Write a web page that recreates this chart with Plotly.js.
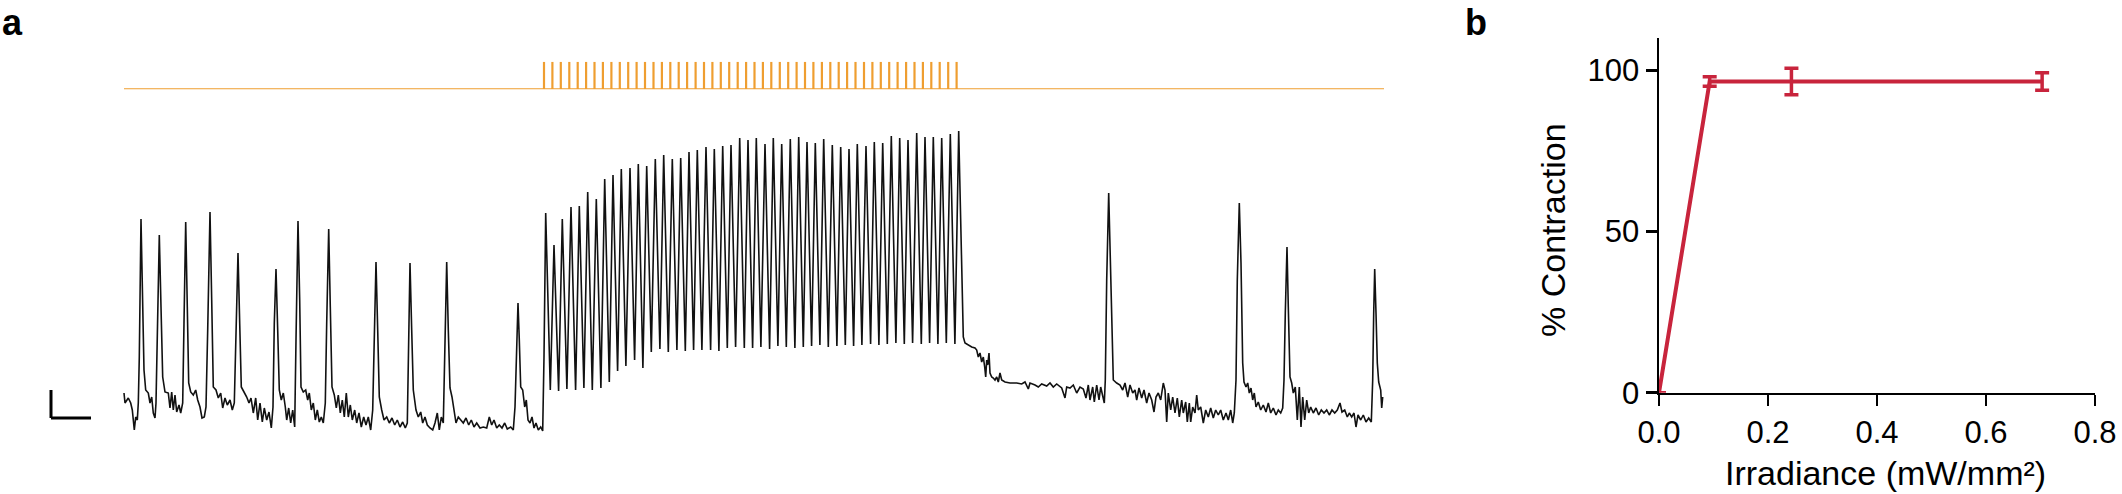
<!DOCTYPE html>
<html>
<head>
<meta charset="utf-8">
<script src="https://cdn.plot.ly/plotly-3.0.1.min.js"></script>
<style>html,body{margin:0;padding:0;background:#fff;}#chart{width:2122px;height:494px;}</style>
</head>
<body>
<div id="chart"></div>
<script>
// ---------- Panel a: recorded trace (time in frames, signal in a.u.) ----------
const preT = [0,1,4.3,6.7,8.3,9.3,10.3,11.7,13.3,14.3,15.3,17,18.7,20,21.7,
  24.3,26,27.7,29.3,31,32,33.3,35.3,37,38.7,41,
  44.3,46,47.7,49.3,51,52.7,55,56.7,58.7,60,61.7,63.3,64.7,66.7,
  69.3,71.7,73.7,76,78,80.3,82,83.7,86,87.7,89.3,
  92,94.3,96.7,98.7,101,103.3,106,108.3,110.3,112,114,115.7,117.3,
  120,122.7,125,127,129.3,131.7,133.7,136,138.3,140.3,142.7,145,147.3,149,150.3,152,153.7,155.3,
  157.3,159.3,161.3,162.7,164.7,166.7,168.7,170.7,172,174,175.7,177,
  179.3,181.7,183.7,185.3,187.3,189.3,191.3,193.3,195.3,197.3,199.3,201.3,202.7,204.7,206.3,208,
  210.3,212.3,214.3,216.3,218.3,220.3,222.3,224.3,226.3,228.3,230.7,232.7,235,237.3,239.7,242,244.3,246.7,248.7,250.3,252,253.7,255.3,
  257.7,260,262.7,265.3,268,270.7,273.3,276,278.7,281.3,283.3,284.7,286,287.7,289.3,
  292,294.3,296.7,298.7,301,303.3,306,308.7,311,313.3,315.3,317.3,319.3,321,322.7,324.3,326,
  328,330,332,334.3,336.7,339.3,342,344.7,347.3,350,352.7,356,359.3,362.7,365.3,367.7,370,372.7,375.3,378,380.7,383.3,386.7,389.3,391,392.7,394,395.3,396.7,
  398.7,400.7,402.3,404,406,408,410,412,414.3,416.7,418.7,420];
const preF = [39,29,34,29,22,12,2,15,12,29,75,213,142,62,42,
  39,29,35,19,14,29,92,197,125,55,40,
  39,24,40,22,37,20,27,19,29,109,210,125,49,40,
  37,42,32,25,14,15,25,102,220,132,45,
  42,34,39,24,34,27,32,22,29,92,179,109,45,
  40,35,29,34,19,34,12,29,10,24,12,20,4,25,109,163,102,42,
  32,39,25,12,24,9,22,5,92,211,132,45,
  40,42,32,39,22,29,12,22,10,15,9,29,109,203,125,45,
  37,24,37,19,32,15,39,15,27,12,22,9,19,5,15,7,15,2,22,92,170,102,35,
  22,12,15,9,14,7,12,5,10,4,9,92,169,102,42,
  22,15,20,9,15,7,4,2,9,19,2,15,9,92,170,102,44,
  35,22,9,15,12,9,14,7,12,5,9,4,5,4,15,7,12,4,7,4,9,3,5,2,25,92,129,92,45,
  42,25,32,12,9,15,4,9,2,5,1,75];

const stimPeakT = [421.7,430,438.3,447,455.3,463.7,472.3,480.7,489,497.3,506,514.3,522.7,531.3,539.7,548.3,556.7,565,573.3,582,
  590.3,598.7,607,615.7,624,632.3,641,649.3,657.7,666.3,674.7,683,691.3,699.7,708.3,716.7,725,733.3,742,750.3,
  758.7,767.3,775.7,784,792.7,801,809.3,817.7,826.3,834.7];
const stimPeakF = [219,187,213,225,226,240,233,253,257,263,264,268,266,273,277,273,274,280,282,285,
  283,286,287,294,292,294,288,294,288,293,295,290,289,293,287,285,283,288,286,290,
  289,296,294,292,299,295,295,294,298,301];
const stimTroughT = [426.3,434.6,442.9,451.6,459.9,468.3,476.9,485.3,493.6,501.9,510.6,518.9,527.3,535.9,544.3,552.9,561.3,569.6,577.9,586.6,
  594.9,603.3,611.6,620.3,628.6,636.9,645.6,653.9,662.3,670.9,679.3,687.6,695.9,704.3,712.9,721.3,729.6,737.9,746.6,754.9,
  763.3,771.9,780.3,788.6,797.3,805.6,813.9,822.3,830.9];
const stimTroughF = [42,41,43,42,44,42,44,50,61,66,72,64,80,83,80,82,81,82,82,82,
  81,84,85,84,84,85,83,86,85,84,85,86,87,85,86,87,86,87,88,87,
  88,89,88,89,88,89,88,89,88];

const postT = [837.7,839.3,841,844.3,847.7,851,852.7,854.3,856,857.7,859.3,860.7,861.7,862.7,863.7,865,866,867.7,869.3,871,872.7,874.3,876,877.7,881,886,892.7,897.7,901,904.3,906,911,914.3,917.7,922.7,926,929.3,932.7,937.7,941,942.7,946,949.3,952.7,956,959.3,962,964.3,966,968.7,970.3,972.7,975,976.7,978.7,980.3,
  981.3,982.7,984.7,986.7,988,989.3,992.7,996,998.7,1001,1003.7,1006,1008.7,1011,1012.7,1015,1017.7,1020,1022.7,1025,1027.7,1030,1032,1034.3,1036.7,1039.3,1041,1042.7,1044.3,1046.7,1048.7,1051,1053.3,1055.3,1057.7,1059.3,1061.7,1063.3,1065.3,1066.7,1068.7,1071,1072.7,1074.3,1076.7,1079.3,1081.7,1084.3,1086.7,1089.3,1091.7,1094.3,1096.7,1099.3,1102,1104.3,1106.7,1108.7,1110.3,
  1112,1113.3,1115.3,1117,1118.7,1120,1122,1123.7,1125.3,1127,1128.7,1130.3,1132,1134.3,1136.7,1139.3,1142,1144.3,1146.7,1149.3,1152,1154.3,1156.7,1158.7,
  1160,1161.3,1163,1164.3,1166,1167.7,1169.3,1171.3,1173.3,1175.3,1177,1178.7,1180.7,1182.7,1184.7,1186.7,1189.3,1192,1194.7,1197.3,1200,1202.7,1205.3,1208,1210.7,1213.3,1216,1218,1220.7,1223.3,1225.3,1227.7,1230,1232,1234,1236.7,1239.3,1242,1244.7,1247.3,
  1248.7,1249.7,1250.7,1252,1253.3,1254.7,1256.7,1257.7,1258.7];
const postF = [152,95,89,87,85,84,82,75,79,70,75,65,55,72,67,79,59,55,54,52,55,50,59,52,50,49,49,48,50,43,49,47,45,48,46,49,45,48,44,34,45,44,47,39,45,43,34,47,32,45,30,47,32,45,35,29,
  52,152,239,152,85,52,49,47,42,49,35,47,39,42,32,44,34,42,29,39,32,20,35,39,32,49,42,10,39,22,35,19,34,15,32,19,30,10,29,10,25,19,37,22,25,9,22,15,24,14,22,17,22,12,19,12,22,9,19,
  52,152,229,169,69,50,45,49,39,44,32,39,25,30,22,27,20,29,19,24,17,22,19,24,
  52,119,185,125,55,49,39,45,12,45,5,35,12,32,19,25,19,24,17,22,19,22,17,22,19,22,29,20,22,15,19,15,19,5,17,12,17,10,14,10,
  52,119,163,119,69,50,42,24,35];

// Light pulses (frames) and recording extent
const pulseT = [420.0,428.4,436.8,445.3,453.7,462.1,470.5,478.9,487.4,495.8,504.2,512.6,521.0,529.5,537.9,546.3,554.7,563.1,571.6,580.0,
  588.4,596.8,605.2,613.7,622.1,630.5,638.9,647.3,655.8,664.2,672.6,681.0,689.4,697.9,706.3,714.7,723.1,731.5,740.0,748.4,
  756.8,765.2,773.6,782.1,790.5,798.9,807.3,815.7,824.2,832.6];
const recordStart = 0, recordEnd = 1260;
const scaleBarT = 40, scaleBarF = 28;

// ---------- Panel b ----------
const irradiance = [0, 0.093, 0.243, 0.703];
const contraction = [0, 96.6, 96.6, 96.6];
const contractionErr = [0, 1.5, 4.1, 2.7];

// ---------- build traces ----------
const traceT = preT.slice(), traceF = preF.slice();
stimPeakT.forEach((t, i) => {
  traceT.push(t); traceF.push(stimPeakF[i]);
  if (i < stimTroughT.length) { traceT.push(stimTroughT[i]); traceF.push(stimTroughF[i]); }
});
postT.forEach((t, i) => { traceT.push(t); traceF.push(postF[i]); });

const lightX = [recordStart], lightY = [0];
pulseT.forEach(p => { lightX.push(p, p, p); lightY.push(0, 1, 0); });
lightX.push(recordEnd); lightY.push(0);

const W = 2122, H = 494;
const px = v => v / W, py = v => 1 - v / H;
const FONT = 'Liberation Sans, Arial, Helvetica, sans-serif';
const RED = '#C8243C';

const data = [
  {x: traceT, y: traceF, type: 'scatter', mode: 'lines', xaxis: 'x', yaxis: 'y',
   line: {color: '#111111', width: 1.6}, hoverinfo: 'skip'},
  {x: lightX, y: lightY, type: 'scatter', mode: 'lines', xaxis: 'x', yaxis: 'y2',
   line: {color: '#EF9E30', width: 2.2}, hoverinfo: 'skip'},
  {x: irradiance, y: contraction, type: 'scatter', mode: 'lines', xaxis: 'x3', yaxis: 'y3',
   line: {color: RED, width: 4},
   error_y: {type: 'data', array: contractionErr, visible: true, color: RED, thickness: 3.5, width: 7},
   cliponaxis: false, hoverinfo: 'skip'}
];

// scale bar anchored at the left of the trace
const sbX0 = -73, sbY0 = 14;
const axisFont = {family: FONT, size: 31, color: '#000'};
const layout = {
  width: W, height: H,
  margin: {l: 0, r: 0, t: 0, b: 0},
  paper_bgcolor: '#fff', plot_bgcolor: 'rgba(0,0,0,0)',
  showlegend: false,
  xaxis: {domain: [px(40), px(1395)], range: [-84, 1271], visible: false, fixedrange: true},
  yaxis: {domain: [py(440), py(100)], range: [-8, 332], visible: false, fixedrange: true},
  yaxis2: {domain: [py(89.3), py(61.7)], range: [0, 1], anchor: 'x', visible: false},
  xaxis3: {domain: [px(1659), px(2095)], range: [0, 0.8], anchor: 'y3',
    tickvals: [0, 0.2, 0.4, 0.6, 0.8], ticktext: ['0.0', '0.2', '0.4', '0.6', '0.8'],
    showline: true, linecolor: '#000', linewidth: 2.5, ticks: 'outside', ticklen: 11, tickwidth: 2.5,
    tickcolor: '#000', showgrid: false, zeroline: false, tickfont: axisFont},
  yaxis3: {domain: [py(392.7), py(38.3)], range: [0, 110], anchor: 'x3',
    tickvals: [0, 50, 100],
    showline: true, linecolor: '#000', linewidth: 2.5, ticks: 'outside', ticklen: 11, tickwidth: 2.5,
    tickcolor: '#000', showgrid: false, zeroline: false, tickfont: axisFont},
  shapes: [
    {type: 'line', xref: 'x', yref: 'y', x0: sbX0, x1: sbX0, y0: sbY0, y1: sbY0 + scaleBarF,
     line: {color: '#000', width: 3}},
    {type: 'line', xref: 'x', yref: 'y', x0: sbX0, x1: sbX0 + scaleBarT, y0: sbY0, y1: sbY0,
     line: {color: '#000', width: 3}}
  ],
  annotations: [
    {text: '<b>a</b>', xref: 'paper', yref: 'paper', x: px(1), y: py(1), xanchor: 'left', yanchor: 'top',
     borderpad: 0, showarrow: false, font: {family: FONT, size: 36, color: '#000'}},
    {text: '<b>b</b>', xref: 'paper', yref: 'paper', x: px(1464), y: py(1), xanchor: 'left', yanchor: 'top',
     borderpad: 0, showarrow: false, font: {family: FONT, size: 36, color: '#000'}},
    {text: '% Contraction', xref: 'paper', yref: 'paper', x: px(1553), y: py(230), xanchor: 'center', yanchor: 'middle',
     textangle: -90, showarrow: false, font: {family: FONT, size: 34, color: '#000'}},
    {text: 'Irradiance (mW/mm²)', xref: 'paper', yref: 'paper', x: px(1885.5), y: py(473.2), xanchor: 'center', yanchor: 'middle',
     showarrow: false, font: {family: FONT, size: 34, color: '#000'}}
  ]
};

Plotly.newPlot('chart', data, layout, {staticPlot: true, displayModeBar: false});
</script>
</body>
</html>
